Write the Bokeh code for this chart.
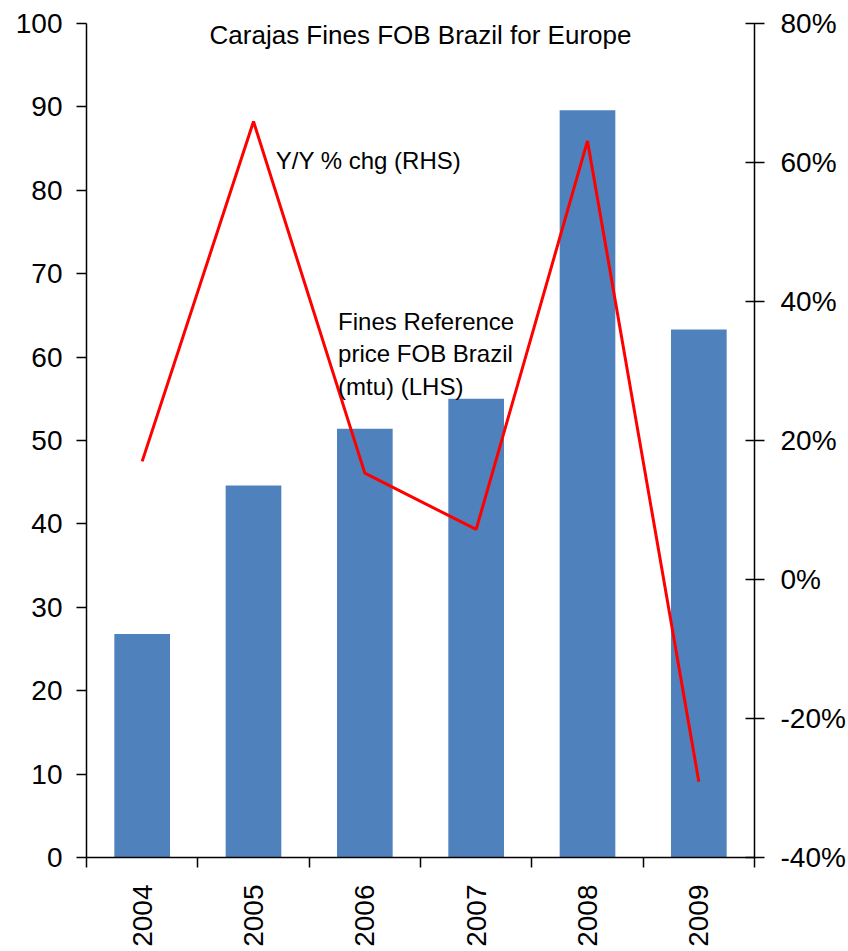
import math
from bokeh.plotting import figure
from bokeh.models import (Range1d, LinearAxis, FixedTicker, PrintfTickFormatter,
                          Label, ColumnDataSource)
from bokeh.embed import file_html
from bokeh.resources import INLINE

# ---- data ----
years = ["2004", "2005", "2006", "2007", "2008", "2009"]
price = [26.8, 44.6, 51.4, 55.0, 89.6, 63.3]          # LHS, mtu
yoy_pct = [17.0, 65.9, 15.3, 7.2, 63.1, -29.1]        # RHS, %
left_ticks = [0, 10, 20, 30, 40, 50, 60, 70, 80, 90, 100]
right_ticks = [-40, -20, 0, 20, 40, 60, 80]

FONT = "Liberation Sans"
BAR = "#4F81BD"
RED = "#FF0000"

xs = [i + 0.5 for i in range(len(years))]
src = ColumnDataSource(dict(x=xs, price=price, yoy=yoy_pct))

p = figure(width=848, height=949, output_backend="svg", toolbar_location=None,
           x_range=Range1d(0, len(years)), y_range=Range1d(0, 100),
           min_border_left=86, min_border_right=94, min_border_top=23,
           min_border_bottom=90)
p.title.visible = False
p.outline_line_color = None
p.xgrid.visible = False
p.ygrid.visible = False
p.background_fill_color = "white"
p.border_fill_color = "white"

p.extra_y_ranges = {"pct": Range1d(-40, 80)}

p.vbar(x="x", top="price", bottom=0, width=0.5, source=src,
       fill_color=BAR, line_color=None)
p.line(x="x", y="yoy", source=src, y_range_name="pct",
       line_color=RED, line_width=3)

# left axis
ya = p.yaxis[0]
ya.ticker = FixedTicker(ticks=left_ticks, minor_ticks=[])
ya.major_tick_out = 10
ya.major_tick_in = 0
ya.major_label_standoff = 14
ya.major_label_text_font = FONT
ya.major_label_text_font_size = "28px"
ya.major_label_text_color = "black"
ya.axis_line_width = 1.5
ya.major_tick_line_width = 1.5
ya.axis_line_color = "black"
ya.major_tick_line_color = "black"

# right axis
ra = LinearAxis(y_range_name="pct",
                ticker=FixedTicker(ticks=right_ticks, minor_ticks=[]),
                formatter=PrintfTickFormatter(format="%d%%"))
ra.major_tick_out = 10
ra.major_tick_in = 9
ra.major_label_standoff = 16
ra.major_label_text_font = FONT
ra.major_label_text_font_size = "28px"
ra.major_label_text_color = "black"
ra.axis_line_width = 1.5
ra.major_tick_line_width = 1.5
ra.axis_line_color = "black"
ra.major_tick_line_color = "black"
p.add_layout(ra, "right")

# bottom axis: labels at centres, tick marks at boundaries
xa = p.xaxis[0]
xa.ticker = FixedTicker(ticks=xs, minor_ticks=list(range(len(years) + 1)))
xa.major_label_overrides = {x: y for x, y in zip(xs, years)}
xa.major_tick_line_color = None
xa.minor_tick_line_color = "black"
xa.minor_tick_line_width = 1.5
xa.minor_tick_out = 10
xa.minor_tick_in = 0
xa.major_label_orientation = math.pi / 2
xa.major_label_standoff = 17
xa.major_label_text_font = FONT
xa.major_label_text_font_size = "28px"
xa.major_label_text_color = "black"
xa.axis_line_width = 1.5
xa.axis_line_color = "black"

# annotations
p.add_layout(Label(x=3.0, y=98.6, text="Carajas Fines FOB Brazil for Europe",
                   text_align="center", text_baseline="middle",
                   text_font=FONT, text_font_size="26px", text_color="black"))
p.add_layout(Label(x=1.70, y=83.6, text="Y/Y % chg (RHS)",
                   text_align="left", text_baseline="middle",
                   text_font=FONT, text_font_size="24px", text_color="black"))
p.add_layout(Label(x=2.26, y=65.9,
                   text="Fines Reference\nprice FOB Brazil\n(mtu) (LHS)",
                   text_align="left", text_baseline="top",
                   text_font=FONT, text_font_size="24px", text_color="black"))

open("out.html", "w").write(file_html(p, INLINE))
